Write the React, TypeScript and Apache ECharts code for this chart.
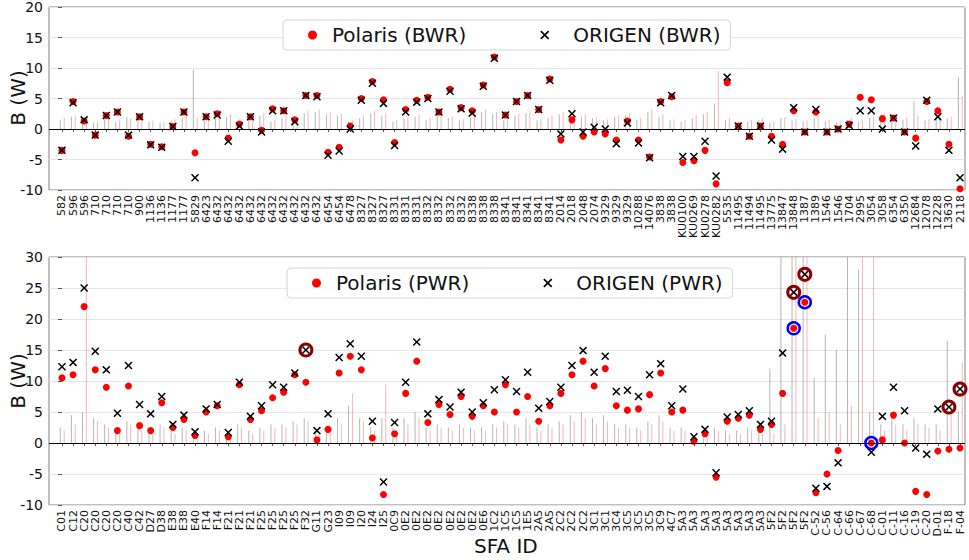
import React, { useEffect, useRef } from "react";
import * as echarts from "echarts";

const bwrLabels = [
  "582", "596", "596", "710", "710", "710", "710", "900", "1136", "1136", "1177", "1177", "5829", "6423",
  "6432", "6432", "6432", "6432", "6432", "6432", "6432", "6432", "6432", "6432", "6454", "6454", "6478",
  "8327", "8327", "8327", "8331", "8331", "8331", "8332", "8332", "8332", "8332", "8338", "8338", "8338",
  "8341", "8341", "8341", "8341", "8341", "2014", "2018", "2048", "2074", "9329", "9329", "9329", "10288",
  "14076", "3838", "3838", "KU0100", "KU0269", "KU0278", "KU0282", "5535", "11495", "11494", "11495",
  "13775", "13847", "13848", "1387", "1389", "1546", "1546", "1704", "2995", "3054", "3058", "6354",
  "6350", "12684", "12078", "12228", "13630", "2118",
];
const bwrPolaris = [
  -3.5, 4.5, 1.3, -1, 2.2, 2.8, -1.2, 2, -2.5, -2.9, 0.4, 2.8, -3.9, 2, 2.5, -1.5, 0.8, 2, -0.2, 3.3, 3,
  1.5, 5.5, 5.5, -3.8, -3, 0.5, 5, 7.8, 4.8, -2.2, 3.2, 4.7, 5.2, 2.8, 6.5, 3.5, 3, 7.2, 11.8, 2.3, 4.5,
  5.5, 3.2, 8.2, -1.8, 1.5, -1.2, -0.5, -0.8, -1.8, 1.3, -1.8, -4.6, 4.5, 5.3, -5.5, -5.2, -3.5, -9, 7.6,
  0.5, -1.2, 0.5, -1.2, -2.5, 3, -0.5, 2.8, -0.5, 0, 0.8, 5.2, 4.8, 1.7, 1.8, -0.5, -1.5, 4.5, 3, -2.5, -9.8,
];
const bwrOrigen = [
  -3.5, 4.3, 1.5, -1, 2.2, 2.8, -1, 2, -2.6, -3, 0.4, 2.8, -8, 2, 2.3, -2, 0.5, 2, -0.5, 3, 3, 1.2, 5.5,
  5.3, -4.3, -3.6, 0, 4.7, 7.5, 4.2, -2.7, 2.8, 4.4, 5, 2.8, 6.2, 3.3, 2.6, 7, 11.6, 2.3, 4.5, 5.5, 3.2, 8,
  -0.8, 2.5, -0.5, 0.3, 0, -2.4, 1, -2.3, -4.7, 4.3, 5.5, -4.5, -4.5, -2, -7.7, 8.5, 0.5, -1.2, 0.5, -1.8,
  -3.3, 3.5, -0.5, 3.2, -0.5, 0, 0.6, 3, 3, 0, 1.8, -0.5, -2.8, 4.7, 2, -3.5, -8,
];
const bwrPolarisSpread = [
  1.8, 2.2, 1.5, 1.2, 2, 1.5, 1.8, 2.5, 1.4, 1.2, 1.6, 2.2, 1.8, 1.5, 2, 2.4, 1.2, 1.8, 2.6, 1.5, 2.2, 1.8,
  3, 3.2, 2.8, 2.5, 1.4, 2.2, 3, 2.6, 1.5, 2, 2.4, 1.8, 2.5, 2, 1.6, 2.2, 3.2, 2.8, 1.8, 2.5, 3, 1.6, 2.2,
  2.8, 3.5, 2.4, 2, 1.6, 2.2, 2.6, 1.8, 3.2, 2.4, 1.6, 1.5, 2.2, 2.8, 9.5, 1.8, 1.2, 1.5, 1.8, 1.2, 2, 1.6,
  1.4, 2.2, 1.5, 1.2, 1.8, 1.5, 2, 2.6, 1.4, 1.8, 2.2, 1.6, 2.5, 2, 5.5,
];
const bwrOrigenSpread = [
  1.5, 2, 1.8, 1, 1.6, 1.2, 2, 2.2, 1.2, 1, 1.4, 1.8, 9.7, 1.3, 1.8, 2, 1, 1.5, 2.2, 1.2, 1.8, 1.5, 2.6,
  2.8, 2.4, 2.2, 1.2, 1.8, 2.6, 2.2, 1.2, 1.8, 2, 1.5, 2.2, 1.8, 1.4, 1.8, 2.8, 2.5, 1.5, 2.2, 2.6, 1.4,
  1.8, 2.4, 3, 2, 1.8, 1.4, 2, 2.2, 1.5, 2.8, 2, 1.4, 1.2, 1.8, 2.4, 4.2, 1.5, 1, 1.2, 1.5, 1, 1.8, 1.4,
  1.2, 1.8, 1.2, 1, 1.5, 1.2, 1.8, 2.2, 1.2, 1.5, 4.5, 1.4, 2.2, 1.8, 8.5,
];

const pwrLabels = [
  "C01", "C12", "C20", "C20", "C20", "C20", "C40", "C42", "D27", "D38", "E38", "E38", "E40", "F14", "F14",
  "F21", "F21", "F21", "F25", "F25", "F25", "F25", "F32", "G11", "G23", "I09", "I09", "I20", "I24", "I25",
  "0C9", "0E2", "0E2", "0E2", "0E2", "0E2", "0E2", "0E2", "0E6", "1C2", "1C5", "1C5", "1E5", "2A5", "2A5",
  "2C2", "2C2", "2C2", "3C1", "3C1", "3C4", "3C5", "3C5", "3C5", "3C9", "4C7", "5A3", "5A3", "5A3", "5A3",
  "5A3", "5A3", "5A3", "5A3", "5F2", "5F2", "5F2", "5F2", "C-52", "C-56", "C-64", "C-66", "C-67", "C-68",
  "C-01", "C-11", "C-16", "C-19", "C-20", "D-01", "F-18", "F-04",
];
const pwrPolaris = [
  10.5, 11, 22, 11.8, 9, 2, 9.2, 2.8, 2, 6.5, 2.5, 3.8, 1.2, 5, 6, 1, 9.4, 3.8, 5.2, 7.3, 8.2, 11, 9.8, 0.5,
  2.2, 11.3, 14, 11.8, 0.8, -8.3, 1.5, 8, 13.2, 3.3, 6.2, 4.6, 7.5, 4.3, 6, 5, 9.4, 5, 7.5, 3.5, 6, 8, 11,
  13.2, 9.2, 12, 6, 5.3, 5.5, 7.8, 11.3, 5, 5.3, 0.3, 1.5, -5.5, 3.5, 4, 4.5, 2.2, 3, 8, 18.5, 22.7, -8, -5,
  -1.2, null, null, 0, 0.5, 4.5, 0, -7.8, -8.3, -1.3, -1, -0.8,
];
const pwrOrigen = [
  12.3, 13, 25, 14.8, 11.8, 4.8, 12.5, 6.2, 4.7, 7.5, 3, 4.5, 1.8, 5.5, 6.2, 1.7, 9.8, 4.3, 6, 9.4, 9, 11.3,
  15, 2, 4.7, 13.8, 16, 14, 3.5, -6.3, 3.3, 9.8, 16.3, 4.7, 7, 5.8, 8.2, 5, 6.5, 8.6, 10.2, 8.3, 11.4, 5.6,
  6.7, 9, 12.5, 14.9, 11.4, 14, 8.3, 8.5, 7.5, 11, 12.8, 6, 8.7, 1, 2.2, -4.8, 4.2, 4.6, 5.2, 3, 3.5, 14.5,
  24.3, 27.2, -7.3, -7, -3.2, null, null, -1.5, 4.3, 9, 5.2, -0.8, -1.8, 5.5, 5.8, 8.7,
];
const pwrPolarisSpread = [
  2, 3, 32, 3.5, 2.5, 1.5, 3, 2, 1.5, 2.5, 1.5, 2, 1, 1.5, 2, 1, 2.5, 1.5, 2, 2.5, 2.5, 3, 3.5, 1.5, 2, 3, 8,
  3.5, 2, 9.5, 2, 3, 4, 2, 2.5, 2, 2.5, 2, 2, 2.5, 3, 2.5, 3, 2, 2.5, 3, 3.5, 4, 3, 3.5, 2.5, 2.5, 2, 3, 3.5,
  2, 2, 1, 1.5, 2, 1.5, 1.5, 2, 1.5, 1.5, 3, 32, 32, 4, 5, 3, 6, 32, 32, 2, 3, 2, 3, 2.5, 2, 6, 13,
];
const pwrOrigenSpread = [
  2.5, 4.5, 5, 4, 3, 2, 3.5, 2.5, 2, 3, 2, 2.5, 1.5, 2, 2.5, 1.5, 3, 2, 2.5, 3, 3, 3.5, 4, 2, 2.5, 4, 6, 4,
  2.5, 4, 2.5, 4, 5, 2.5, 3, 2.5, 3, 2.5, 2.5, 3, 3.5, 3, 4, 2.5, 3, 3.5, 4.5, 5, 4, 4.5, 3, 3, 2.5, 3.5,
  4.5, 2.5, 2.5, 1.5, 2, 2.5, 2, 2, 2.5, 2, 12, 30, 32, 32, 10.5, 17.5, 15, 32, 28, 5, 3, 4, 3, 4, 3, 3, 16.5, 5,
];
const pwrOrigenCircled = [22, 66, 67, 80, 81];
const pwrPolarisCircled = [66, 67, 73];

const FONT = "DejaVu Sans";
const X_MARK =
  "path://M0,1.3L1.3,0L5,3.7L8.7,0L10,1.3L6.3,5L10,8.7L8.7,10L5,6.3L1.3,10L0,8.7L3.7,5Z";

const pts = (vals: (number | null)[]) =>
  vals.map((v, i) => (v == null ? null : [i, v])).filter((d) => d !== null);
const shifted = (vals: number[], dx: number) => vals.map((v, i) => [i + dx, v]);
const picked = (vals: (number | null)[], idx: number[]) => idx.map((i) => [i, vals[i]]);

function xAxisFor(labels: string[], gridIndex: number) {
  const idx = labels.map((_, i) => i);
  return {
    type: "value",
    gridIndex,
    min: -1.17,
    max: 81.45,
    axisLine: { show: false },
    splitLine: { show: false },
    axisTick: { show: true, length: 3, customValues: idx, lineStyle: { color: "#555" } },
    axisLabel: {
      customValues: idx,
      rotate: 90,
      fontSize: 11,
      margin: 5,
      color: "#111",
      fontFamily: FONT,
      formatter: (v: number) => labels[Math.round(v)] ?? "",
    },
  };
}

function yAxisFor(gridIndex: number, min: number, max: number) {
  return {
    type: "value",
    gridIndex,
    min,
    max,
    interval: 5,
    axisLine: { show: false },
    axisTick: { show: true, length: 4, lineStyle: { color: "#555" } },
    axisLabel: { fontSize: 14, fontFamily: FONT, color: "#111", margin: 6 },
    splitLine: { show: true, lineStyle: { color: "#e6e6e6", width: 1 } },
  };
}

function legendFor(top: number, left: number, pName: string, oName: string) {
  return {
    top,
    left,
    orient: "horizontal",
    selectedMode: false,
    itemWidth: 9,
    itemHeight: 9,
    itemGap: 74,
    padding: [5, 10, 5, 25],
    borderColor: "#d4d4d4",
    borderWidth: 1,
    borderRadius: 4,
    backgroundColor: "rgba(255,255,255,0.85)",
    textStyle: { fontSize: 20, fontFamily: FONT, color: "#111" },
    data: [
      { name: pName, icon: "circle", itemStyle: { color: "#ff0000", opacity: 1 }, textStyle: { padding: [0, 0, 0, 10] } },
      { name: oName, icon: X_MARK, itemStyle: { color: "#000", opacity: 1 }, textStyle: { padding: [0, 0, 0, 19] } },
    ],
  };
}

function spreadSeries(gi: number, name: string, data: number[][], color: string, withZero: boolean) {
  const s: any = {
    type: "custom",
    name,
    xAxisIndex: gi,
    yAxisIndex: gi,
    data,
    encode: { x: 0, y: 1 },
    clip: true,
    silent: true,
    z: 1,
    renderItem: (_params: any, api: any) => {
      const x = api.value(0);
      const h = api.value(1);
      const p0 = api.coord([x, 0]);
      const p1 = api.coord([x, h]);
      return {
        type: "line",
        shape: { x1: p0[0], y1: p0[1], x2: p1[0], y2: p1[1] },
        style: { stroke: color, lineWidth: 1 },
      };
    },
  };
  if (withZero) {
    s.markLine = {
      silent: true,
      symbol: "none",
      label: { show: false },
      lineStyle: { color: "#000", width: 1, type: "solid" },
      data: [{ yAxis: 0 }],
    };
  }
  return s;
}

function seriesFor(
  gi: number,
  pName: string,
  oName: string,
  pol: (number | null)[],
  ori: (number | null)[],
  polSpread: number[],
  oriSpread: number[]
) {
  return [
    spreadSeries(gi, pName + " spread", shifted(polSpread, 0.2), "rgba(240,110,110,0.5)", false),
    spreadSeries(gi, oName + " spread", shifted(oriSpread, -0.15), "rgba(110,110,110,0.5)", true),
    {
      type: "scatter",
      name: pName,
      xAxisIndex: gi,
      yAxisIndex: gi,
      data: pts(pol),
      symbol: "circle",
      symbolSize: 7,
      itemStyle: { color: "#ff0000", opacity: 1 },
      z: 4,
    },
    {
      type: "scatter",
      name: oName,
      xAxisIndex: gi,
      yAxisIndex: gi,
      data: pts(ori),
      symbol: X_MARK,
      symbolSize: 8,
      itemStyle: { color: "#000", opacity: 1 },
      z: 5,
    },
  ];
}

function yTitle(y: number) {
  return {
    type: "text",
    x: 18,
    y,
    rotation: Math.PI / 2,
    style: {
      text: "B (W)",
      fontSize: 20,
      fontFamily: FONT,
      fill: "#111",
      align: "center",
      verticalAlign: "middle",
    },
  };
}

export default function App() {
  const ref = useRef<HTMLDivElement>(null);
  useEffect(() => {
    if (!ref.current) return;
    const chart = echarts.init(ref.current, null, { renderer: "svg" });
    const option: any = {
      animation: false,
      backgroundColor: "#fff",
      grid: [
        { left: 49, top: 7, width: 916, height: 183, show: true, borderColor: "#808080", borderWidth: 1, backgroundColor: "transparent", containLabel: false, outerBoundsMode: "none" },
        { left: 49, top: 257, width: 916, height: 248, show: true, borderColor: "#808080", borderWidth: 1, backgroundColor: "transparent", containLabel: false, outerBoundsMode: "none" },
      ],
      xAxis: [xAxisFor(bwrLabels, 0), xAxisFor(pwrLabels, 1)],
      yAxis: [yAxisFor(0, -10, 20), yAxisFor(1, -10, 30)],
      legend: [
        legendFor(20, 283, "Polaris (BWR)", "ORIGEN (BWR)"),
        legendFor(268, 287, "Polaris (PWR)", "ORIGEN (PWR)"),
      ],
      graphic: [
        yTitle(98),
        yTitle(381),
        {
          type: "text",
          left: 474,
          top: 536,
          style: { text: "SFA ID", fontSize: 20, fontFamily: FONT, fill: "#111" },
        },
      ],
      series: [
        ...seriesFor(0, "Polaris (BWR)", "ORIGEN (BWR)", bwrPolaris, bwrOrigen, bwrPolarisSpread, bwrOrigenSpread),
        ...seriesFor(1, "Polaris (PWR)", "ORIGEN (PWR)", pwrPolaris, pwrOrigen, pwrPolarisSpread, pwrOrigenSpread),
        {
          type: "scatter",
          name: "Polaris circled",
          xAxisIndex: 1,
          yAxisIndex: 1,
          data: picked(pwrPolaris, pwrPolarisCircled),
          symbol: "circle",
          symbolSize: 12,
          itemStyle: { color: "rgba(0,0,0,0)", borderColor: "#0000ee", borderWidth: 2.5, opacity: 1 },
          z: 6,
          silent: true,
        },
        {
          type: "scatter",
          name: "ORIGEN circled",
          xAxisIndex: 1,
          yAxisIndex: 1,
          data: picked(pwrOrigen, pwrOrigenCircled),
          symbol: "circle",
          symbolSize: 12,
          itemStyle: { color: "rgba(0,0,0,0)", borderColor: "#8b0000", borderWidth: 3, opacity: 1 },
          z: 6,
          silent: true,
        },
      ],
    };
    chart.setOption(option);
    return () => chart.dispose();
  }, []);
  return (
    <div
      ref={ref}
      style={{ position: "fixed", left: 0, top: 0, width: 969, height: 560, background: "#fff" }}
    />
  );
}
